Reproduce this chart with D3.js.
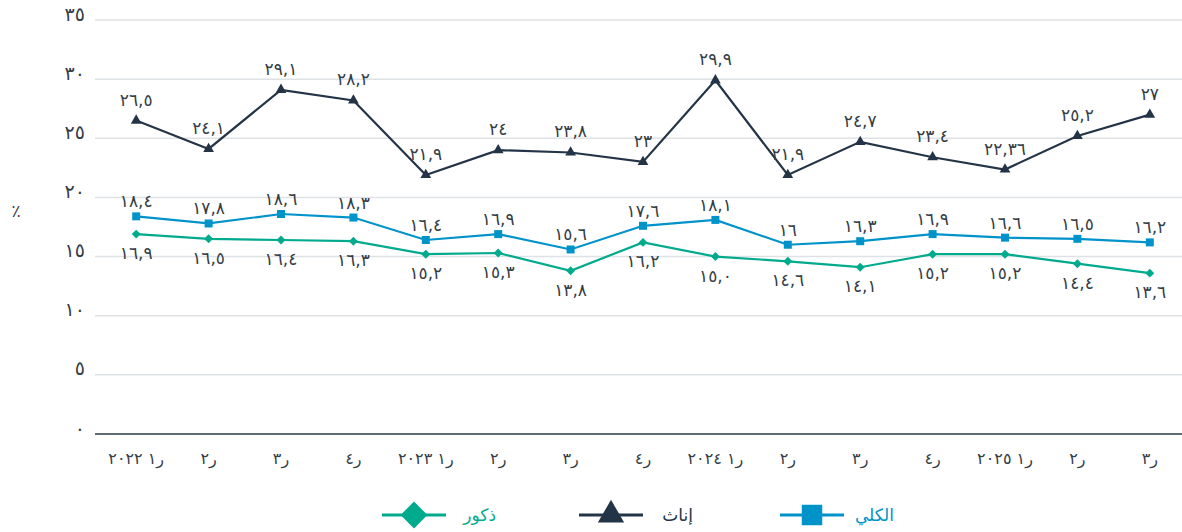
<!DOCTYPE html>
<html>
<head>
<meta charset="utf-8">
<script src="https://cdn.jsdelivr.net/npm/d3@7"></script>
<style>
  body { margin: 0; background: #fff; }
  svg text { font-family: "DejaVu Sans", sans-serif; }
</style>
</head>
<body>
<svg id="chart" width="1182" height="532"></svg>
<script>
// quarters, shown right-to-left in the label text
const quarters = ["ر١ ٢٠٢٢", "ر٢", "ر٣", "ر٤", "ر١ ٢٠٢٣", "ر٢", "ر٣", "ر٤",
  "ر١ ٢٠٢٤", "ر٢", "ر٣", "ر٤", "ر١ ٢٠٢٥", "ر٢", "ر٣"];

// values kept as strings so the labels read exactly like the source
const total   = ["18.4", "17.8", "18.6", "18.3", "16.4", "16.9", "15.6", "17.6", "18.1", "16", "16.3", "16.9", "16.6", "16.5", "16.2"];
const females = ["26.5", "24.1", "29.1", "28.2", "21.9", "24", "23.8", "23", "29.9", "21.9", "24.7", "23.4", "22.36", "25.2", "27"];
const males   = ["16.9", "16.5", "16.4", "16.3", "15.2", "15.3", "13.8", "16.2", "15.0", "14.6", "14.1", "15.2", "15.2", "14.4", "13.6"];

const yTicks = [0, 5, 10, 15, 20, 25, 30, 35];

const svg = d3.select("#chart"),
  width = +svg.attr("width"),
  textColor = "#343d46";

const x = d3.scalePoint().domain(d3.range(quarters.length)).range([100, 1186]).padding(0.5);
const y = d3.scaleLinear().domain([0, 35]).range([434, 20]);

// arabic-indic digits, comma as decimal mark
const ar = s => String(s).replace(/[0-9]/g, c => "٠١٢٣٤٥٦٧٨٩"[+c]).replace(".", ",");

// diamond = square turned 45 degrees
const marker = (shape, size) => shape === "diamond"
  ? d3.symbol(d3.symbolSquare, size)()
  : d3.symbol(shape === "square" ? d3.symbolSquare : d3.symbolTriangle, size)();
const rot = shape => shape === "diamond" ? " rotate(45)" : "";

// grid
svg.append("g")
  .selectAll("line")
  .data(yTicks.filter(d => d > 0))
  .join("line")
    .attr("x1", 95).attr("x2", width)
    .attr("y1", d => y(d)).attr("y2", d => y(d))
    .attr("stroke", "#dfe2e5").attr("stroke-width", 1.5);

svg.append("line")
  .attr("x1", 95).attr("x2", width)
  .attr("y1", y(0)).attr("y2", y(0))
  .attr("stroke", "#2c3a4a").attr("stroke-width", 1.5);

// y labels
svg.append("g")
  .selectAll("text")
  .data(yTicks)
  .join("text")
    .attr("x", 85)
    .attr("y", d => y(d) - 5)
    .attr("text-anchor", "end")
    .attr("dominant-baseline", "middle")
    .attr("font-size", 19)
    .attr("fill", textColor)
    .text(d => ar(d));

svg.append("text")
  .attr("x", 16).attr("y", 212)
  .attr("text-anchor", "middle")
  .attr("dominant-baseline", "middle")
  .attr("font-size", 17)
  .attr("fill", textColor)
  .text("٪");

// x labels
svg.append("g")
  .selectAll("text")
  .data(quarters)
  .join("text")
    .attr("x", (d, i) => x(i))
    .attr("y", 459)
    .attr("text-anchor", "middle")
    .attr("dominant-baseline", "middle")
    .attr("direction", "rtl")
    .attr("font-size", 16)
    .attr("fill", textColor)
    .text(d => d);

const series = [
  {name: "الكلي", values: total,   color: "#0093c9", shape: "square",   size: 64, legendSize: 420, dy: -14},
  {name: "إناث",  values: females, color: "#243447", shape: "triangle", size: 50, legendSize: 300, dy: -20},
  {name: "ذكور",  values: males,   color: "#00aa8d", shape: "diamond",  size: 40, legendSize: 360, dy: 20}
];

const line = d3.line()
  .x((d, i) => x(i))
  .y(d => y(+d));

series.forEach(s => {
  const g = svg.append("g");

  g.append("path")
    .datum(s.values)
    .attr("d", line)
    .attr("fill", "none")
    .attr("stroke", s.color)
    .attr("stroke-width", 2.2);

  g.selectAll("path.mark")
    .data(s.values)
    .join("path")
      .attr("class", "mark")
      .attr("transform", (d, i) => `translate(${x(i)},${y(+d)})` + rot(s.shape))
      .attr("d", marker(s.shape, s.size))
      .attr("fill", s.color);

  g.selectAll("text")
    .data(s.values)
    .join("text")
      .attr("x", (d, i) => x(i))
      .attr("y", d => y(+d) + s.dy)
      .attr("text-anchor", "middle")
      .attr("dominant-baseline", "middle")
      .attr("font-size", 17)
      .attr("fill", textColor)
      .text(d => ar(d));
});

// legend, right to left
const legendX = [812, 611, 414];
const legend = svg.append("g")
  .selectAll("g")
  .data(series)
  .join("g")
    .attr("transform", (d, i) => `translate(${legendX[i]},515)`);

legend.append("line")
  .attr("x1", -32).attr("x2", 32)
  .attr("stroke", d => d.color)
  .attr("stroke-width", 3);

legend.append("path")
  .attr("transform", d => rot(d.shape).trim())
  .attr("d", d => marker(d.shape, d.legendSize))
  .attr("fill", d => d.color);

legend.append("text")
  .attr("x", 82)
  .attr("y", 1)
  .attr("text-anchor", "end")
  .attr("dominant-baseline", "middle")
  .attr("font-size", 17)
  .attr("fill", d => d.shape === "triangle" ? "#243447" : d.color)
  .text(d => d.name);
</script>
</body>
</html>
